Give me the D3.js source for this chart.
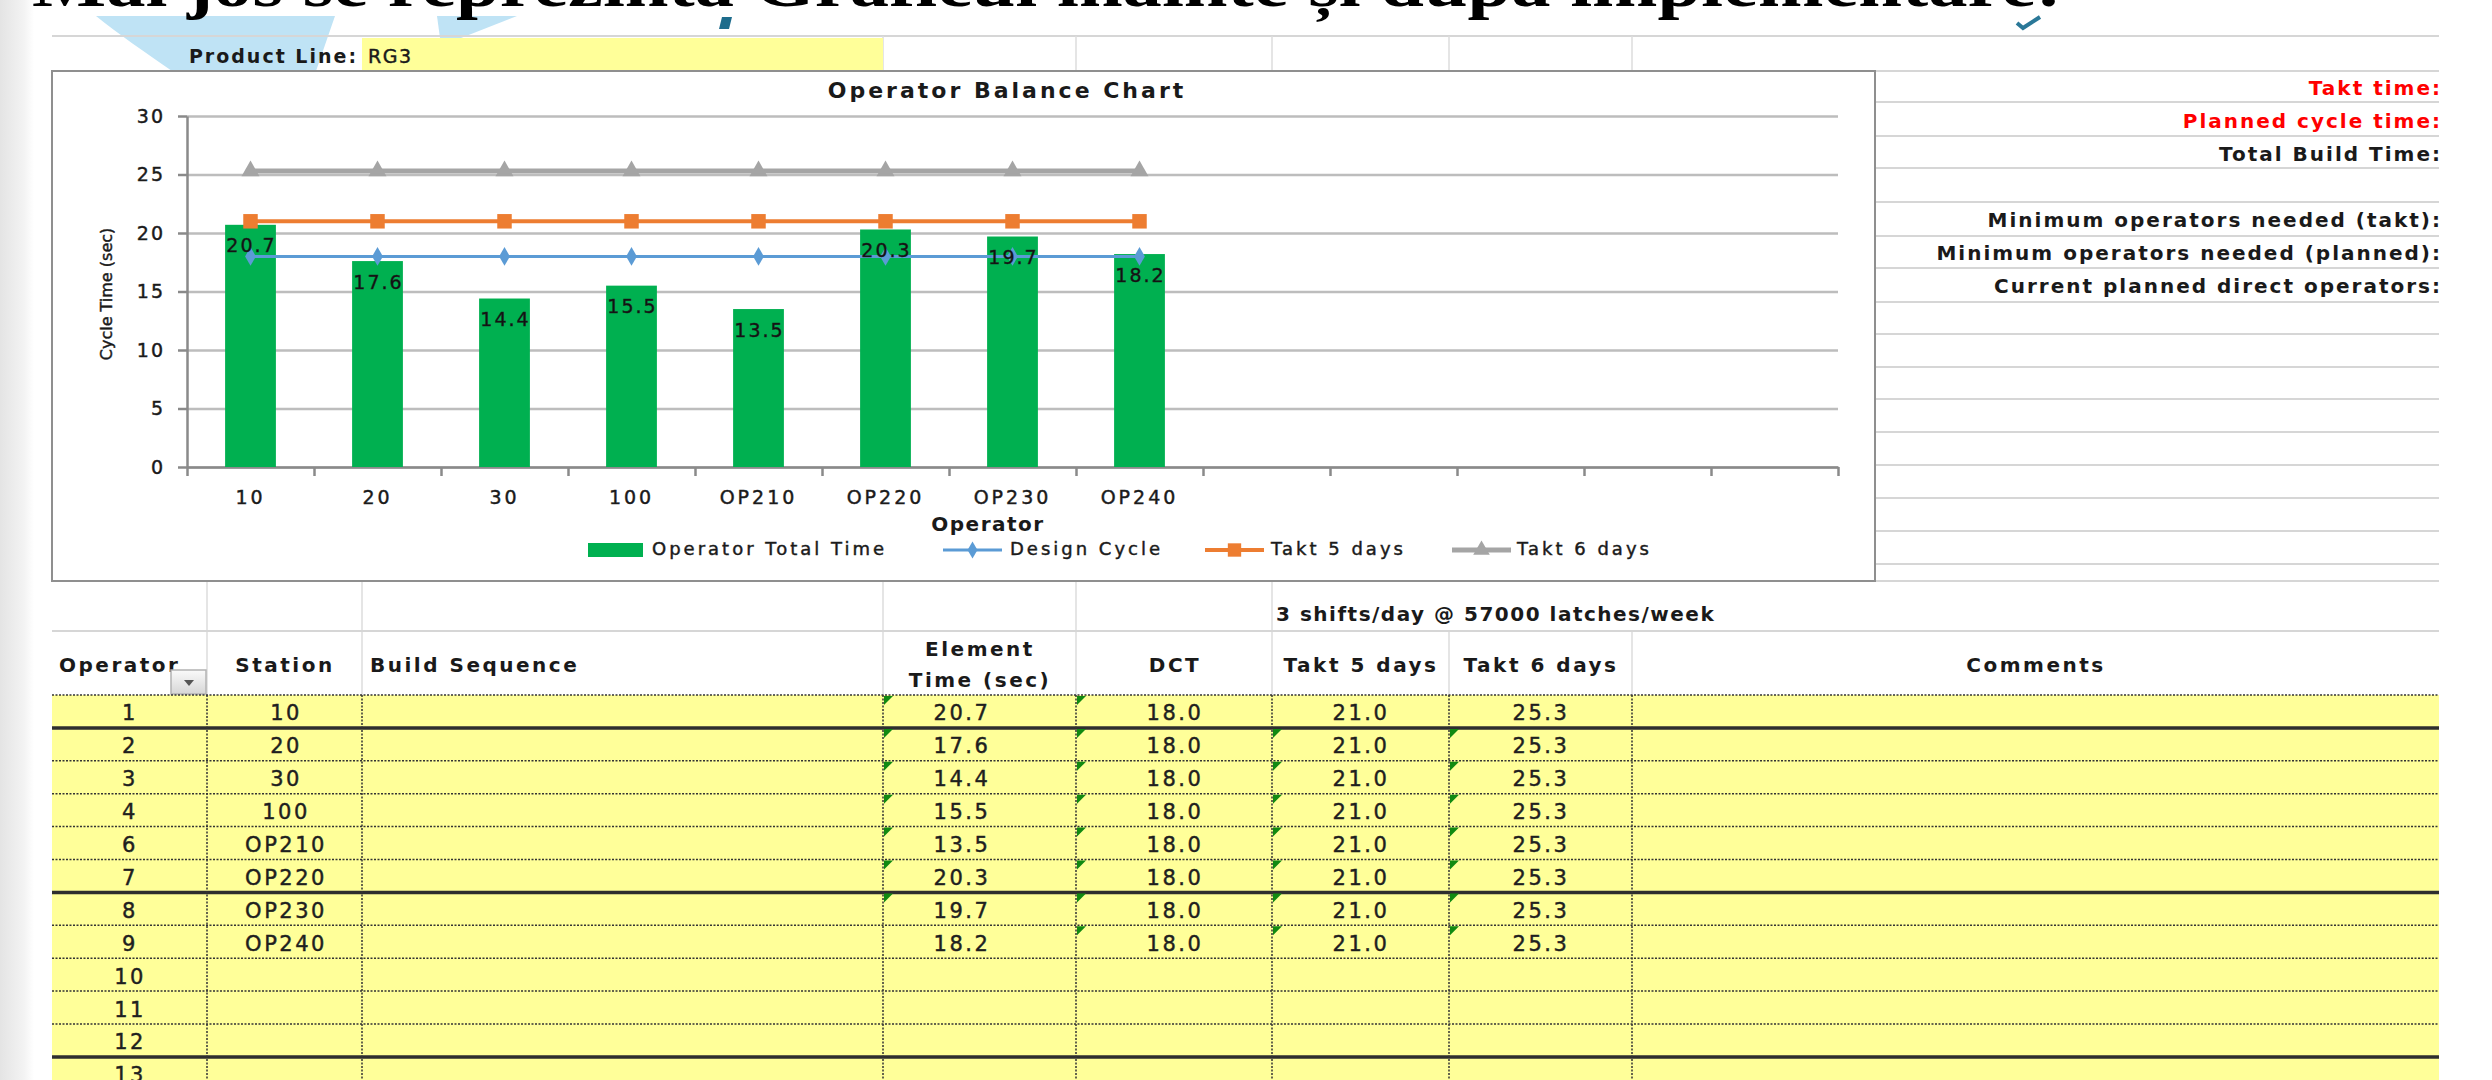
<!DOCTYPE html>
<html>
<head>
<meta charset="utf-8">
<script src="https://cdn.jsdelivr.net/npm/d3@7"></script>
<style>
  body { margin: 0; background: #fff; }
  svg { display: block; }
  text { font-family: "DejaVu Sans", sans-serif; fill: #1a1a1a; }
  .heavy { stroke: #1f1f1f; stroke-width: 0.45px; }
</style>
</head>
<body>
<div id="sheet"></div>
<script>
// ---- values read from the sheet ----
const stations = ["10", "20", "30", "100", "OP210", "OP220", "OP230", "OP240"];
const operatorTotalTime = [20.7, 17.6, 14.4, 15.5, 13.5, 20.3, 19.7, 18.2];
const designCycle = [18.0, 18.0, 18.0, 18.0, 18.0, 18.0, 18.0, 18.0];
const takt5Days = [21.0, 21.0, 21.0, 21.0, 21.0, 21.0, 21.0, 21.0];
const takt6Days = [25.3, 25.3, 25.3, 25.3, 25.3, 25.3, 25.3, 25.3];
// the category axis keeps 5 empty slots after the stations
const axisCategories = ["10", "20", "30", "100", "OP210", "OP220", "OP230", "OP240", "", "", "", "", ""];
const yTicks = [0, 5, 10, 15, 20, 25, 30];

const operatorNumbers = ["1", "2", "3", "4", "6", "7", "8", "9", "10", "11", "12", "13"];
// green error markers per row: element time, DCT, takt 5, takt 6
const errorFlags = [[1,1,0,0],[1,1,1,1],[1,1,1,1],[1,1,1,1],[1,1,1,1],[1,1,1,1],[1,1,1,1],[0,1,1,1]];

const summaryLabels = ["Takt time:", "Planned cycle time:", "Total Build Time:", "",
  "Minimum operators needed (takt):", "Minimum operators needed (planned):", "Current planned direct operators:"];
const redSummary = ["Takt time:", "Planned cycle time:"];

const W = 2492, H = 1080;
const svg = d3.select("#sheet").append("svg").attr("width", W).attr("height", H);

// ---- slide background bits ----
const defs = svg.append("defs");
const g1 = defs.append("linearGradient").attr("id", "leftStrip").attr("x1", 0).attr("x2", 1);
g1.append("stop").attr("offset", "0%").attr("stop-color", "#e4e4e4");
g1.append("stop").attr("offset", "70%").attr("stop-color", "#f3f3f3");
g1.append("stop").attr("offset", "100%").attr("stop-color", "#ffffff");
const g2 = defs.append("linearGradient").attr("id", "btn").attr("x1", 0).attr("x2", 0).attr("y1", 0).attr("y2", 1);
g2.append("stop").attr("offset", "0%").attr("stop-color", "#fafafa");
g2.append("stop").attr("offset", "100%").attr("stop-color", "#d6d6d6");
defs.append("clipPath").attr("id", "sheetClip").append("rect")
  .attr("x", 0).attr("y", 0).attr("width", 2439).attr("height", H);

svg.append("rect").attr("x", 0).attr("y", 0).attr("width", 34).attr("height", H).attr("fill", "url(#leftStrip)");

svg.append("path").attr("d", "M96,16 L335,16 L316,71 L172,71 C145,52 118,34 96,16 Z").attr("fill", "#bfe3f5");
svg.append("path").attr("d", "M437,16 L517,16 L461,38 L440,38 Z").attr("fill", "#bfe3f5");
svg.append("path").attr("d", "M722,17 L732,17 L729,29 L719,29 Z").attr("fill", "#1d6c8c");
svg.append("path").attr("d", "M2017,23 L2023,28 L2040,17").attr("fill", "none")
  .attr("stroke", "#2a7898").attr("stroke-width", 4);

svg.append("text")
  .attr("x", 32).attr("y", 6)
  .attr("textLength", 2030).attr("lengthAdjust", "spacingAndGlyphs")
  .style("font-family", "'Liberation Serif', serif").style("font-weight", "bold")
  .style("font-size", "64px").style("fill", "#000")
  .text("Mai jos se reprezintă Graficul înainte și după implementare:");

// ---- spreadsheet top area ----
const sheet = svg.append("g").attr("clip-path", "url(#sheetClip)");
const gridGray = "#d6d6d6";

sheet.append("line").attr("x1", 52).attr("x2", 2439).attr("y1", 36).attr("y2", 36)
  .attr("stroke", gridGray).attr("stroke-width", 2);
[883, 1076, 1272, 1449, 1632].forEach(xv => {
  sheet.append("line").attr("x1", xv).attr("x2", xv).attr("y1", 36).attr("y2", 71)
    .attr("stroke", "#dcdcdc").attr("stroke-width", 1.5);
});
sheet.append("rect").attr("x", 362).attr("y", 38).attr("width", 521).attr("height", 33).attr("fill", "#ffff99");
sheet.append("text").attr("x", 358).attr("y", 57).attr("text-anchor", "end")
  .attr("dominant-baseline", "middle").style("font-weight", "bold").style("font-size", "19px")
  .style("letter-spacing", "2px").text("Product Line:");
sheet.append("text").attr("x", 368).attr("y", 57).attr("dominant-baseline", "middle").attr("class", "heavy")
  .style("font-size", "19px").style("letter-spacing", "1.5px").text("RG3");

// right side rows
[71, 102, 136, 168, 202, 236, 268, 302, 334, 367, 399, 432, 465, 498, 531, 564].forEach(yv => {
  sheet.append("line").attr("x1", 1876).attr("x2", 2439).attr("y1", yv).attr("y2", yv)
    .attr("stroke", gridGray).attr("stroke-width", 2);
});
const summaryY = d3.scaleBand().domain(d3.range(summaryLabels.length)).range([71, 302]);
sheet.selectAll(".summary").data(summaryLabels).join("text")
  .attr("class", "summary")
  .attr("x", 2442).attr("y", (d, i) => summaryY(i) + summaryY.bandwidth() / 2 + 2)
  .attr("text-anchor", "end").attr("dominant-baseline", "middle")
  .style("font-weight", "bold").style("font-size", "20px").style("letter-spacing", "2px")
  .style("fill", d => redSummary.includes(d) ? "#ff0000" : "#1a1a1a")
  .text(d => d);

// ---- chart ----
const chartBox = { x: 52, y: 71, w: 1823, h: 510 };
svg.append("rect").attr("x", chartBox.x).attr("y", chartBox.y).attr("width", chartBox.w).attr("height", chartBox.h)
  .attr("fill", "#fff").attr("stroke", "#8f8f8f").attr("stroke-width", 2);

const plot = { left: 187, right: 1838, top: 116, bottom: 467 };
const x = d3.scaleBand().domain(d3.range(axisCategories.length))
  .range([plot.left, plot.right]).paddingInner(0.6).paddingOuter(0.3);
const y = d3.scaleLinear().domain([0, 30]).range([plot.bottom, plot.top]);
const cx = i => x(i) + x.bandwidth() / 2;
const chart = svg.append("g");

// gridlines
chart.append("g").attr("class", "grid")
  .attr("transform", `translate(${plot.left},0)`)
  .call(d3.axisLeft(y).tickValues(yTicks).tickSize(-(plot.right - plot.left)).tickFormat(""))
  .call(g => g.select(".domain").remove())
  .call(g => g.selectAll("line").attr("stroke", "#bdbdbd").attr("stroke-width", 2.5));

// y axis
chart.append("g").attr("class", "yAxisG")
  .attr("transform", `translate(${plot.left},0)`)
  .call(d3.axisLeft(y).tickValues(yTicks).tickSize(9).tickSizeOuter(0).tickPadding(13))
  .call(g => g.select(".domain").attr("stroke", "#8a8a8a").attr("stroke-width", 2.5))
  .call(g => g.selectAll("line").attr("stroke", "#8a8a8a").attr("stroke-width", 2.5))
  .call(g => g.selectAll("text").attr("class", "heavy").style("font-family", "'DejaVu Sans', sans-serif")
    .style("font-size", "19px").style("letter-spacing", "2px").attr("fill", "#1a1a1a"));

// x axis: boundary ticks + category labels
const tickScale = d3.scaleLinear().domain([0, axisCategories.length]).range([plot.left, plot.right]);
chart.append("g").attr("class", "xAxisG")
  .attr("transform", `translate(0,${plot.bottom})`)
  .call(d3.axisBottom(tickScale).ticks(axisCategories.length).tickSize(9).tickSizeOuter(0).tickFormat(""))
  .call(g => g.select(".domain").attr("stroke", "#8a8a8a").attr("stroke-width", 2.5))
  .call(g => g.selectAll("line").attr("stroke", "#8a8a8a").attr("stroke-width", 2.5));
chart.append("g").attr("class", "xLabels")
  .attr("transform", `translate(0,${plot.bottom})`)
  .call(d3.axisBottom(x).tickFormat(i => axisCategories[i]).tickSize(0).tickPadding(24))
  .call(g => g.select(".domain").remove())
  .call(g => g.selectAll("text").attr("class", "heavy").style("font-family", "'DejaVu Sans', sans-serif")
    .style("font-size", "19px").style("letter-spacing", "3px").attr("fill", "#1a1a1a"));

// bars
chart.selectAll(".bar").data(operatorTotalTime).join("rect")
  .attr("class", "bar")
  .attr("x", (d, i) => x(i)).attr("width", x.bandwidth())
  .attr("y", d => y(d)).attr("height", d => y(0) - y(d))
  .attr("fill", "#00b050");

// lines with markers
const lineSeries = [
  { name: "Takt 6 days", values: takt6Days, color: "#a5a5a5", width: 5, symbol: d3.symbolTriangle, size: 140 },
  { name: "Takt 5 days", values: takt5Days, color: "#ed7d31", width: 4, symbol: d3.symbolSquare, size: 210 },
  { name: "Design Cycle", values: designCycle, color: "#5b9bd5", width: 3, symbol: d3.symbolDiamond, size: 100 }
];
const lineGen = d3.line().x((d, i) => cx(i)).y(d => y(d));
lineSeries.forEach(s => {
  chart.append("path").datum(s.values).attr("d", lineGen)
    .attr("fill", "none").attr("stroke", s.color).attr("stroke-width", s.width);
  chart.selectAll(null).data(s.values).join("path")
    .attr("transform", (d, i) => `translate(${cx(i)},${y(d)})`)
    .attr("d", d3.symbol().type(s.symbol).size(s.size))
    .attr("fill", s.color);
});

// data labels (inside end)
chart.selectAll(".dataLabel").data(operatorTotalTime).join("text")
  .attr("class", "dataLabel heavy")
  .attr("x", (d, i) => cx(i) + 1).attr("y", d => y(d) + 22)
  .attr("text-anchor", "middle").attr("dominant-baseline", "middle")
  .style("font-size", "19px").style("letter-spacing", "2px").style("fill", "#111")
  .text(d => d.toFixed(1));

// titles
chart.append("text").attr("x", 1007).attr("y", 92).attr("text-anchor", "middle")
  .attr("dominant-baseline", "middle").style("font-weight", "bold").style("font-size", "22px")
  .style("letter-spacing", "3px").text("Operator Balance Chart");
chart.append("text").attr("x", 988).attr("y", 525).attr("text-anchor", "middle")
  .attr("dominant-baseline", "middle").style("font-weight", "bold").style("font-size", "20px")
  .style("letter-spacing", "1.5px").text("Operator");
chart.append("text").attr("transform", "translate(107,294) rotate(-90)").attr("text-anchor", "middle")
  .attr("class", "heavy").attr("dominant-baseline", "middle").style("font-size", "16px").text("Cycle Time (sec)");

// legend
const legendY = 550;
const legend = chart.append("g");
legend.append("rect").attr("x", 588).attr("y", legendY - 7).attr("width", 55).attr("height", 14).attr("fill", "#00b050");
legend.append("text").attr("x", 652).attr("y", legendY).attr("dominant-baseline", "middle").attr("class", "heavy")
  .style("font-size", "18px").style("letter-spacing", "3px").text("Operator Total Time");
const legendLines = [
  { s: lineSeries[2], x0: 943, x1: 1002, tx: 1010 },
  { s: lineSeries[1], x0: 1205, x1: 1264, tx: 1271 },
  { s: lineSeries[0], x0: 1452, x1: 1511, tx: 1517 }
];
legendLines.forEach(l => {
  legend.append("line").attr("x1", l.x0).attr("x2", l.x1).attr("y1", legendY).attr("y2", legendY)
    .attr("stroke", l.s.color).attr("stroke-width", l.s.width);
  legend.append("path").attr("transform", `translate(${(l.x0 + l.x1) / 2},${legendY})`)
    .attr("d", d3.symbol().type(l.s.symbol).size(l.s.size * 0.85)).attr("fill", l.s.color);
  legend.append("text").attr("x", l.tx).attr("y", legendY).attr("dominant-baseline", "middle").attr("class", "heavy")
    .style("font-size", "18px").style("letter-spacing", "3px").text(l.s.name);
});

// ---- table below the chart ----
const cols = [52, 207, 362, 883, 1076, 1272, 1449, 1632, 2439];
sheet.append("line").attr("x1", 1875).attr("x2", 2439).attr("y1", 581).attr("y2", 581)
  .attr("stroke", gridGray).attr("stroke-width", 2);
[207, 362, 883, 1076, 1272].forEach(xv => {
  sheet.append("line").attr("x1", xv).attr("x2", xv).attr("y1", 582).attr("y2", 695)
    .attr("stroke", "#dcdcdc").attr("stroke-width", 1.5);
});
[1449, 1632].forEach(xv => {
  sheet.append("line").attr("x1", xv).attr("x2", xv).attr("y1", 631).attr("y2", 695)
    .attr("stroke", "#dcdcdc").attr("stroke-width", 1.5);
});
sheet.append("line").attr("x1", 52).attr("x2", 2439).attr("y1", 631).attr("y2", 631)
  .attr("stroke", gridGray).attr("stroke-width", 2);
sheet.append("text").attr("x", 1276).attr("y", 615).attr("dominant-baseline", "middle")
  .style("font-weight", "bold").style("font-size", "20px").style("letter-spacing", "1.5px")
  .text("3 shifts/day @ 57000 latches/week");

const headerY = 666;
const header = sheet.append("g").style("font-weight", "bold").style("font-size", "20px").style("letter-spacing", "2.5px");
header.append("text").attr("x", 59).attr("y", headerY).attr("dominant-baseline", "middle").text("Operator");
header.append("text").attr("x", 285).attr("y", headerY).attr("text-anchor", "middle").attr("dominant-baseline", "middle").text("Station");
header.append("text").attr("x", 370).attr("y", headerY).attr("dominant-baseline", "middle").text("Build Sequence");
header.append("text").attr("x", 980).attr("y", 650).attr("text-anchor", "middle").attr("dominant-baseline", "middle").text("Element");
header.append("text").attr("x", 980).attr("y", 681).attr("text-anchor", "middle").attr("dominant-baseline", "middle").text("Time (sec)");
header.append("text").attr("x", 1175).attr("y", headerY).attr("text-anchor", "middle").attr("dominant-baseline", "middle").text("DCT");
header.append("text").attr("x", 1361).attr("y", headerY).attr("text-anchor", "middle").attr("dominant-baseline", "middle").text("Takt 5 days");
header.append("text").attr("x", 1541).attr("y", headerY).attr("text-anchor", "middle").attr("dominant-baseline", "middle").text("Takt 6 days");
header.append("text").attr("x", 2036).attr("y", headerY).attr("text-anchor", "middle").attr("dominant-baseline", "middle").text("Comments");
// filter drop-down button
sheet.append("rect").attr("x", 171).attr("y", 670).attr("width", 35).attr("height", 24)
  .attr("fill", "url(#btn)").attr("stroke", "#b3b3b3").attr("stroke-width", 1.5);
sheet.append("path").attr("d", "M184,680 L194,680 L189,686 Z").attr("fill", "#555");

// rows
const rowY = d3.scaleBand().domain(operatorNumbers).range([695, 695 + 32.9 * operatorNumbers.length]);
sheet.append("rect").attr("x", 52).attr("y", 695).attr("width", 2387).attr("height", H - 695).attr("fill", "#ffff99");
const thickAfter = ["1", "7", "12"];
sheet.append("line").attr("x1", 52).attr("x2", 2439).attr("y1", 695).attr("y2", 695)
  .attr("stroke", "#333").attr("stroke-width", 1.5).attr("stroke-dasharray", "2,1.5");
operatorNumbers.forEach(op => {
  const yb = rowY(op) + rowY.bandwidth();
  const thick = thickAfter.includes(op);
  sheet.append("line").attr("x1", 52).attr("x2", 2439).attr("y1", yb).attr("y2", yb)
    .attr("stroke", thick ? "#2e2e2e" : "#333")
    .attr("stroke-width", thick ? 3.5 : 1.5)
    .attr("stroke-dasharray", thick ? null : "2,1.5");
});
cols.slice(1, -1).forEach(xv => {
  sheet.append("line").attr("x1", xv).attr("x2", xv).attr("y1", 695).attr("y2", H)
    .attr("stroke", "#333").attr("stroke-width", 1.5).attr("stroke-dasharray", "2,1.5");
});

const cellText = (xc, op, txt) => sheet.append("text")
  .attr("class", "heavy")
  .attr("x", xc).attr("y", rowY(op) + rowY.bandwidth() / 2 + 3)
  .attr("text-anchor", "middle").attr("dominant-baseline", "middle")
  .style("font-size", "21px").style("letter-spacing", "2.5px").style("fill", "#1f1f1f").text(txt);

operatorNumbers.forEach(op => cellText(130, op, op));
stations.forEach((st, i) => {
  const op = operatorNumbers[i];
  cellText(286, op, st);
  cellText(962, op, operatorTotalTime[i].toFixed(1));
  cellText(1175, op, designCycle[i].toFixed(1));
  cellText(1361, op, takt5Days[i].toFixed(1));
  cellText(1541, op, takt6Days[i].toFixed(1));
  const flagCols = [883, 1076, 1272, 1449];
  errorFlags[i].forEach((f, k) => {
    if (!f) return;
    const x0 = flagCols[k] + 1, y0 = rowY(op) + 1;
    sheet.append("path").attr("d", `M${x0},${y0} L${x0 + 9},${y0} L${x0},${y0 + 9} Z`).attr("fill", "#118a11");
  });
});
</script>
</body>
</html>
